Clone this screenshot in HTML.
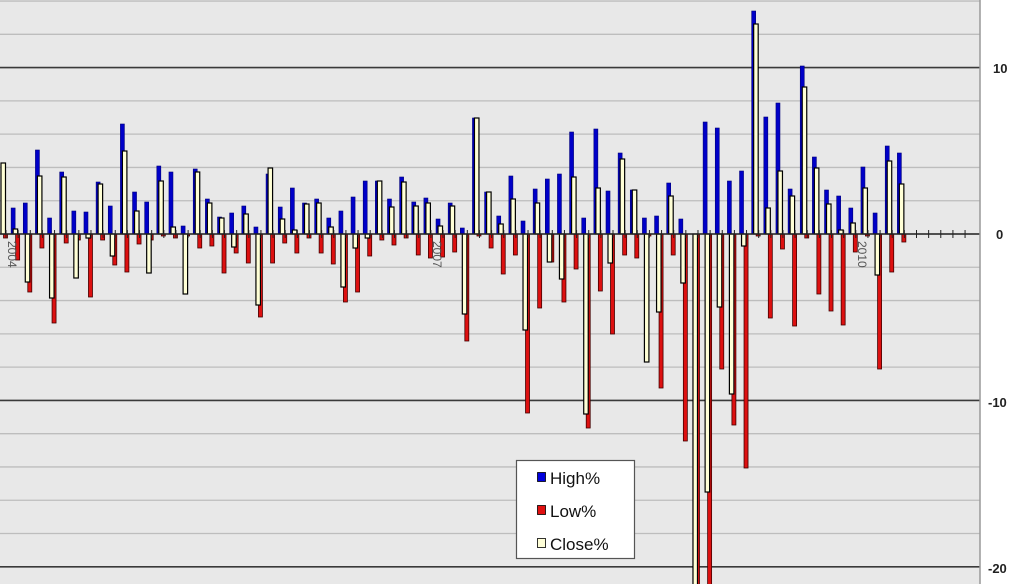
<!DOCTYPE html>
<html><head><meta charset="utf-8"><style>
html,body{margin:0;padding:0;background:#fff;}
svg{display:block;font-family:"Liberation Sans",sans-serif;}
</style></head><body>
<svg id="c" width="1017" height="584" viewBox="0 0 1017 584" xmlns="http://www.w3.org/2000/svg">
<rect x="0" y="0" width="980" height="584" fill="#e8e8e8"/>
<g id="grid"></g>
<g id="bars"></g>
<g id="ticks"></g>
<line x1="980" y1="0" x2="980" y2="584" stroke="#999" stroke-width="1.5"/>
<g font-size="13" font-weight="bold" fill="#222">
<text x="993" y="73">10</text>
<text x="996" y="239">0</text>
<text x="988" y="407">-10</text>
<text x="988" y="573">-20</text>
</g>
<g font-size="12" fill="#555">
<text transform="translate(8,241) rotate(90)">2004</text>
<text transform="translate(433,241) rotate(90)">2007</text>
<text transform="translate(858,241) rotate(90)">2010</text>
</g>
<rect x="516.5" y="460.5" width="118" height="98" fill="#fff" stroke="#555" stroke-width="1.2"/>
<rect x="537.5" y="472.5" width="8" height="9" fill="#0000dd" stroke="#000" stroke-width="0.8"/>
<rect x="537.5" y="505.5" width="8" height="9" fill="#e01010" stroke="#000" stroke-width="0.8"/>
<rect x="537.5" y="538.5" width="8" height="9" fill="#ffffd8" stroke="#000" stroke-width="0.8"/>
<g font-size="17" fill="#111">
<text x="550" y="484">High%</text>
<text x="550" y="517">Low%</text>
<text x="550" y="550">Close%</text>
</g>
</svg>
<script>
var NS="http://www.w3.org/2000/svg";
function el(p,t,a){var e=document.createElementNS(NS,t);for(var k in a)e.setAttribute(k,a[k]);p.appendChild(e);return e;}
var Z=234, S=16.64;
var grid=document.getElementById('grid');
for(var k=-22;k<=14;k+=2){var y=Z-k*S;if(y<-1||y>585)continue;
 var major=(k%10==0&&k!=0);
 el(grid,'line',{x1:0,x2:980,y1:y,y2:y,stroke:major?'#3a3a3a':'#bdbdbd','stroke-width':major?1.6:1.3});}
var D=[[234,163,238],[208,229,260],[203,282,292],[150,176,248],[218,298,323],[172,177,243],[211,278,240],[212,238,297],[182,184,240],[206,256,265],
[124,151,272],[192,211,244],[202,273,240],[166,181,236],[172,227,238],[226,294,236],[169,172,248],[199,203,246],[217,218,273],[213,247,253],
[206,214,263],[227,305,317],[174,168,263],[207,219,243],[188,230,253],[203,204,238],[199,203,253],[218,227,264],[211,287,302],[197,248,292],
[181,238,256],[181,181,240],[199,207,245],[177,182,238],[202,206,255],[198,203,258],[219,226,257],[203,206,252],[228,314,341],[118,118,236],
[192,192,248],[216,224,274],[176,199,255],[221,330,413],[189,203,308],[179,262,262],[174,279,302],[132,177,269],[218,414,428],[129,188,291],
[191,263,334],[153,159,255],[190,190,258],[218,362,236],[216,312,388],[183,196,255],[219,283,441],[234,600,600],[122,492,600],[128,307,369],
[181,394,425],[171,246,468],[11,24,236],[117,208,318],[103,171,249],[189,196,326],[66,87,238],[157,168,294],[190,204,311],[196,230,325],
[208,223,252],[167,188,236],[213,275,369],[146,161,272],[153,184,242]];
var bars=document.getElementById('bars');
for(var i=0;i<D.length;i++){
 var x=-1+i*12.14,h=D[i][0],c=D[i][1],l=D[i][2];
 if(h<Z) el(bars,'rect',{x:x,y:h,width:4,height:Z-h,fill:'#0000c8',stroke:'#00007a','stroke-width':0.6});
 if(l>Z) el(bars,'rect',{x:x+4.5,y:Z,width:4,height:l-Z,fill:'#dd1010',stroke:'#400','stroke-width':0.8});
 var y1=Math.min(c,Z),y2=Math.max(c,Z);
 if(y2-y1>0.5) el(bars,'rect',{x:x+2,y:y1,width:4.5,height:y2-y1,fill:'#ffffd6',stroke:'#000','stroke-width':1.2});
}
var t=document.getElementById('ticks');
el(t,'line',{x1:0,x2:980,y1:Z,y2:Z,stroke:'#222','stroke-width':1.6});
for(var j=0;j<80;j++){var tx=6+j*12.14;el(t,'line',{x1:tx,x2:tx,y1:Z-4,y2:Z+4,stroke:'#222','stroke-width':1});}
</script>
</body></html>
